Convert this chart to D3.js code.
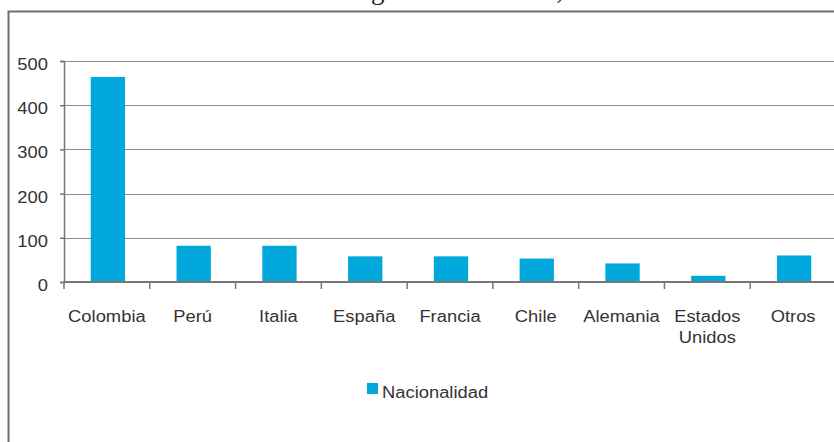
<!DOCTYPE html>
<html><head><meta charset="utf-8">
<script src="https://cdn.jsdelivr.net/npm/d3@7"></script>
<style>body{margin:0;background:#fff;} svg{display:block;}</style>
</head><body>
<svg id="c" width="834" height="442"></svg>
<script>
const categories = ["Colombia","Perú","Italia","España","Francia","Chile","Alemania","Estados Unidos","Otros"];
const values = [464, 82, 82, 58, 58, 53, 42, 14, 60];
const yTicks = [0,100,200,300,400,500];
const seriesName = "Nacionalidad";
const titleText = "Total de residentes según nacionalidad, 2010";

const svg = d3.select("#c");
const W = 834, H = 442;
const x0 = 64, x1 = 836, yTop = 61, yZero = 282;
const color = "#00A8DC";
const font = "'Liberation Sans', Arial, sans-serif";
const fs = 16.4, sx = 1.12;

// stretched label helper
function label(g, tx, ty, anchor, lines, lh) {
  const t = g.append("text").attr("transform", `translate(${tx},${ty}) scale(${sx},1)`)
    .attr("text-anchor", anchor).attr("font-family", font).attr("font-size", fs).attr("fill", "#333");
  lines.forEach((w,k)=> t.append("tspan").attr("x",0).attr("y", k*(lh||0)).text(w));
  return t;
}

// cropped title (only descenders visible)
const t = svg.append("text").attr("y", -1).attr("font-family","'Liberation Serif','Times New Roman',serif")
  .attr("font-size", 27).attr("fill","#222").text(titleText);
const gi = titleText.indexOf("g");
const off = t.node().getSubStringLength(0, gi);
t.attr("x", 371 - off);

// frame
svg.append("rect").attr("x", 8.5).attr("y", 11.5).attr("width", 900).attr("height", 500)
  .attr("fill","none").attr("stroke","#6e6e6e").attr("stroke-width", 2);

const x = d3.scaleBand().domain(categories).range([x0, x1]).paddingInner(0.6).paddingOuter(0.3);
const y = d3.scaleLinear().domain([0,500]).range([yZero, yTop]);

// gridlines
svg.append("g").selectAll("line").data(yTicks.filter(d=>d>0)).join("line")
  .attr("x1", x0).attr("x2", W).attr("y1", d=>Math.round(y(d))+0.5).attr("y2", d=>Math.round(y(d))+0.5)
  .attr("stroke","#8c8c8c").attr("stroke-width",1.2);

// bars
svg.append("g").selectAll("rect").data(values).join("rect")
  .attr("x",(d,i)=>x(categories[i])+1).attr("width", x.bandwidth())
  .attr("y", d=>y(d)).attr("height", d=>yZero - y(d)).attr("fill", color);

// y axis (line + ticks via d3 axis, labels stretched)
const ya = svg.append("g").attr("transform",`translate(${x0},0)`)
  .call(d3.axisLeft(y).tickValues(yTicks).tickSize(4).tickFormat(""));
ya.select(".domain").attr("stroke","#777").attr("stroke-width",1.5);
ya.selectAll(".tick line").attr("stroke","#777").attr("stroke-width",1.5);
const yl = svg.append("g");
yTicks.forEach(v => label(yl, 48, y(v) + 9, "end", [String(v)]));

// x axis
const step = x.step();
const bounds = d3.range(categories.length).map(i => x0 + i*step);
svg.append("line").attr("x1", x0).attr("x2", W).attr("y1", yZero).attr("y2", yZero)
  .attr("stroke","#777").attr("stroke-width",2);
svg.append("g").selectAll("line").data(bounds).join("line")
  .attr("x1", d=>d).attr("x2", d=>d).attr("y1", yZero).attr("y2", yZero+7)
  .attr("stroke","#777").attr("stroke-width",1.5);

const xl = svg.append("g");
categories.forEach(c => label(xl, x(c)+x.bandwidth()/2, 321.5, "middle", c.split(" "), 21.5));

// legend
svg.append("rect").attr("x",367).attr("y",383).attr("width",11).attr("height",11).attr("fill",color);
label(svg, 382, 397.5, "start", [seriesName]);
</script>
</body></html>
